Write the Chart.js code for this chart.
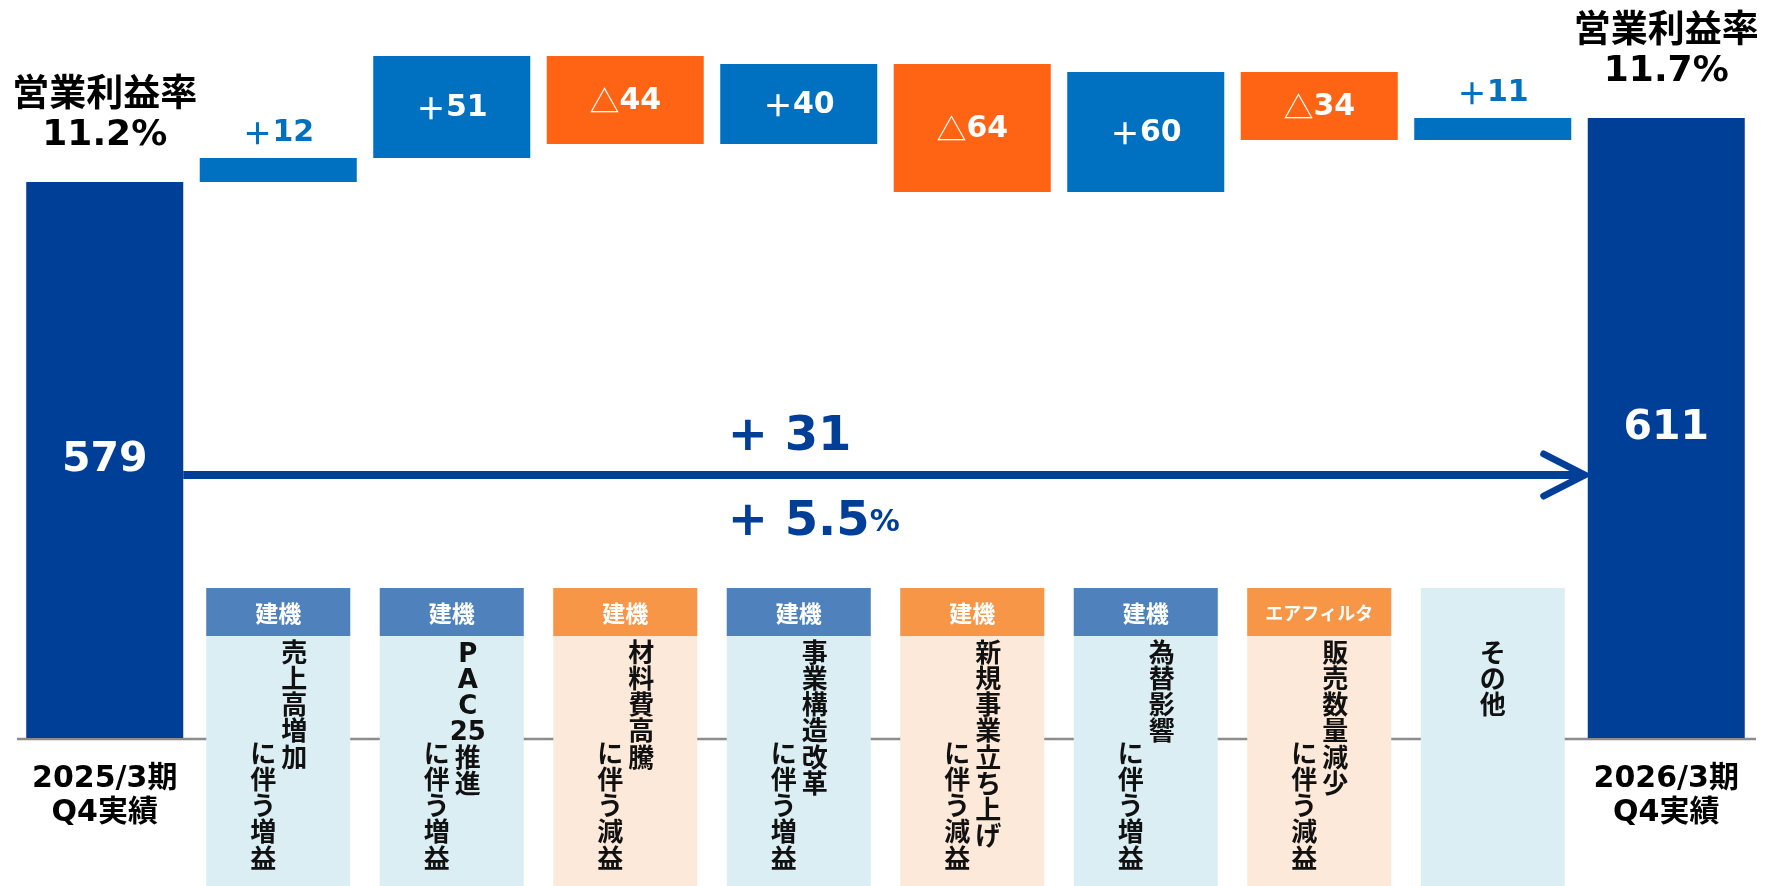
<!DOCTYPE html>
<html lang="ja">
<head>
  <meta charset="UTF-8" />
  <meta name="viewport" content="width=device-width, initial-scale=1.0" />
  <title>営業利益 増減要因</title>
  <script src="https://cdn.jsdelivr.net/npm/chart.js"></script>
  <style>
    html, body { margin: 0; padding: 0; background: #fff; }
    #wrap { width: 1773px; height: 886px; position: relative; }
  </style>
</head>
<body>
  <div id="wrap"><canvas id="bridgeChart"></canvas></div>

  <script>
    // ---- data ----
    const periodStart = ['2025/3期', 'Q4実績'];
    const periodEnd = ['2026/3期', 'Q4実績'];
    const startValue = 579;
    const endValue = 611;
    const marginStart = '11.2%';
    const marginEnd = '11.7%';
    const marginTitle = '営業利益率';

    const factorLabels = ['売上高増加', 'PAC25推進', '材料費高騰', '事業構造改革', '新規事業立ち上げ', '為替影響', '販売数量減少', 'その他'];
    const factorNotes = ['に伴う増益', 'に伴う増益', 'に伴う減益', 'に伴う増益', 'に伴う減益', 'に伴う増益', 'に伴う減益', ''];
    const segmentTags = ['建機', '建機', '建機', '建機', '建機', '建機', 'エアフィルタ', ''];
    const deltas = [12, 51, -44, 40, -64, 60, -34, 11];

    const changeAbs = '31';
    const changePct = '5.5';

    // broken value axis (bars start from here)
    const axisMin = 301;
    const axisMax = 670;
    const arrowLevel = 432.5;

    const categories = [periodStart.join(' '), ...factorLabels, periodEnd.join(' ')];

    // floating bars for the bridge
    let level = startValue;
    const floating = [[axisMin, startValue]];
    deltas.forEach(d => { floating.push([level, level + d]); level += d; });
    floating.push([axisMin, endValue]);

    const TOTAL = '#003f98', UP = '#0070c0', DOWN = '#ff6314';
    const barColors = floating.map((_, i) =>
      (i === 0 || i === floating.length - 1) ? TOTAL : (deltas[i - 1] >= 0 ? UP : DOWN));

    const LATIN = '"DejaVu Sans", "Noto Sans CJK JP", sans-serif';
    const CJK = '"Noto Sans CJK JP", sans-serif';

    // draw a run of text pieces with different fonts, centred on x
    function drawParts(ctx, parts, x, y, align) {
      let total = 0;
      parts.forEach(p => { ctx.font = p.font; p.w = ctx.measureText(p.t).width; total += p.w; });
      let cx = align === 'left' ? x : x - total / 2;
      ctx.textAlign = 'left';
      parts.forEach(p => { ctx.font = p.font; ctx.fillText(p.t, cx, y); cx += p.w; });
    }

    function drawVertical(ctx, text, x, y0, step) {
      const toks = text.match(/[0-9]+|[\s\S]/g) || [];
      toks.forEach((t, i) => ctx.fillText(t, x, y0 + i * step));
    }

    const bridgeDecor = {
      id: 'bridgeDecor',
      beforeDatasetsDraw(chart) {
        const { ctx, chartArea: a } = chart;
        ctx.save();
        ctx.strokeStyle = '#8c8c8c';
        ctx.lineWidth = 2.5;
        ctx.beginPath();
        ctx.moveTo(a.left - 1, a.bottom + 1);
        ctx.lineTo(a.right + 3, a.bottom + 1);
        ctx.stroke();
        ctx.restore();
      },
      afterDatasetsDraw(chart) {
        const { ctx, chartArea: a } = chart;
        const bars = chart.getDatasetMeta(0).data;
        const yS = chart.scales.y;
        const last = bars.length - 1;
        ctx.save();
        ctx.textBaseline = 'middle';

        // factor boxes under the bars
        const boxTop = a.bottom - 150, headH = 48, boxW = 144, step = 26.2;
        factorLabels.forEach((label, k) => {
          const cx = bars[k + 1].x;
          const gain = deltas[k] >= 0;
          ctx.fillStyle = gain ? '#daeef3' : '#fde9d9';
          ctx.fillRect(cx - boxW / 2, boxTop, boxW, chart.height - boxTop);
          if (segmentTags[k]) {
            ctx.fillStyle = gain ? '#4f81bd' : '#f79646';
            ctx.fillRect(cx - boxW / 2, boxTop, boxW, headH);
            const fs = Math.min(23, Math.floor((boxW - 36) / segmentTags[k].length));
            ctx.fillStyle = '#fff';
            ctx.textAlign = 'center';
            ctx.font = `bold ${fs}px ${CJK}`;
            ctx.fillText(segmentTags[k], cx, boxTop + headH / 2 + 1);
          }
          ctx.fillStyle = '#111';
          ctx.textAlign = 'center';
          ctx.font = `bold 26px ${LATIN}`;
          const note = factorNotes[k];
          drawVertical(ctx, label, note ? cx + 16 : cx, boxTop + 67, step);
          if (note) drawVertical(ctx, note, cx - 15, boxTop + 168, step);
        });

        // change labels on the step bars
        deltas.forEach((d, k) => {
          const b = bars[k + 1];
          const top = Math.min(b.y, b.base), bot = Math.max(b.y, b.base);
          const prefix = d >= 0
            ? { t: '＋', font: `bold 30px ${CJK}` }
            : { t: '△', font: `30px ${CJK}` };
          const num = { t: String(Math.abs(d)), font: `bold 30px ${LATIN}` };
          if (bot - top < 50) {
            ctx.fillStyle = UP;
            drawParts(ctx, [prefix, num], b.x, top - 25);
          } else {
            ctx.fillStyle = '#fff';
            drawParts(ctx, [prefix, num], b.x, (top + bot) / 2 + 1);
          }
        });

        // totals + margin headers
        [[0, startValue, marginStart], [last, endValue, marginEnd]].forEach(([i, v, m]) => {
          const b = bars[i];
          ctx.textAlign = 'center';
          ctx.fillStyle = '#fff';
          ctx.font = `bold 41px ${LATIN}`;
          ctx.fillText(String(v), b.x, (b.y + b.base) / 2);
          ctx.fillStyle = '#000';
          ctx.font = `bold 37px ${CJK}`;
          ctx.fillText(marginTitle, b.x, b.y - 90);
          ctx.font = `bold 36px ${LATIN}`;
          ctx.fillText(m, b.x, b.y - 46);
        });

        // period labels under the totals
        [[0, periodStart], [last, periodEnd]].forEach(([i, lines]) => {
          ctx.textAlign = 'center';
          ctx.fillStyle = '#000';
          ctx.font = `bold 30px ${LATIN}`;
          ctx.fillText(lines[0], bars[i].x, a.bottom + 41);
          ctx.fillText(lines[1], bars[i].x, a.bottom + 75);
        });

        // arrow from start to end total
        const ay = yS.getPixelForValue(arrowLevel);
        const x0 = bars[0].x + bars[0].width / 2;
        const x1 = bars[last].x - bars[last].width / 2;
        ctx.strokeStyle = TOTAL;
        ctx.lineWidth = 8;
        ctx.beginPath();
        ctx.moveTo(x0, ay);
        ctx.lineTo(x1 - 4, ay);
        ctx.stroke();
        ctx.lineWidth = 7;
        ctx.lineCap = 'round';
        ctx.lineJoin = 'miter';
        ctx.beginPath();
        ctx.moveTo(x1 - 44, ay - 21);
        ctx.lineTo(x1 - 3, ay);
        ctx.lineTo(x1 - 44, ay + 21);
        ctx.stroke();

        // total change text
        const tx = bars[4].x - 71;
        ctx.fillStyle = TOTAL;
        drawParts(ctx, [{ t: '+ ' + changeAbs, font: `bold 48px ${LATIN}` }], tx, ay - 37, 'left');
        drawParts(ctx, [
          { t: '+ ' + changePct, font: `bold 48px ${LATIN}` },
          { t: '%', font: `bold 30px ${LATIN}` }
        ], tx, ay + 48, 'left');
        ctx.restore();
      }
    };

    const ctx = document.getElementById('bridgeChart').getContext('2d');
    new Chart(ctx, {
      type: 'bar',
      data: {
        labels: categories,
        datasets: [{
          data: floating,
          backgroundColor: barColors,
          borderWidth: 0,
          borderSkipped: false,
          barPercentage: 0.905,
          categoryPercentage: 1.0
        }]
      },
      options: {
        responsive: true,
        maintainAspectRatio: false,
        animation: false,
        layout: { padding: { left: 18, right: 20, top: 0, bottom: 148 } },
        plugins: {
          legend: { display: false },
          tooltip: { enabled: false }
        },
        scales: {
          x: { display: false, offset: true },
          y: { display: false, min: axisMin, max: axisMax }
        }
      },
      plugins: [bridgeDecor]
    });
  </script>
</body>
</html>
